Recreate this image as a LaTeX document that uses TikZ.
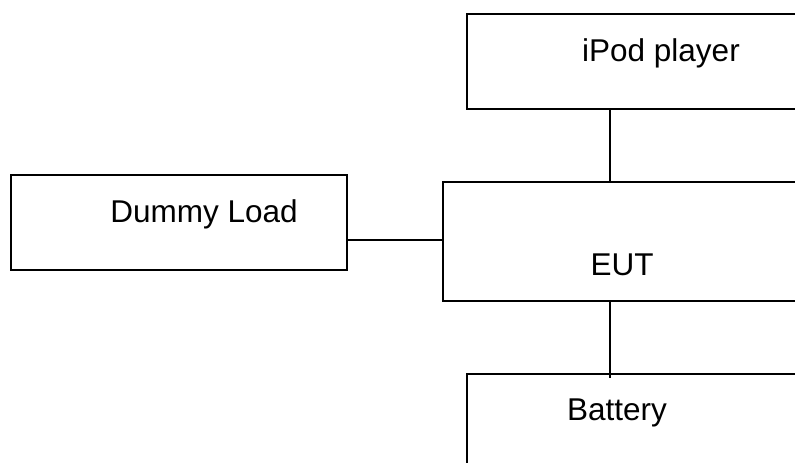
\documentclass[tikz,border=0pt]{standalone}
\usepackage{fontspec}
\setmainfont{Liberation Sans}
\begin{document}
\begin{tikzpicture}[x=1pt,y=-1pt,
  blk/.style={draw=black,line width=1.8pt,rectangle,inner sep=0pt,anchor=north west},
  lbl/.style={font=\fontsize{31.5}{36}\selectfont,anchor=base,inner sep=0pt},
  wire/.style={draw=black,line width=2pt}]
\useasboundingbox (0,0) rectangle (795,463);
\clip (0,0) rectangle (795,463);
\node[blk,minimum width=340pt,minimum height=95pt] (ipod) at (466,13) {};
\node[blk,minimum width=364pt,minimum height=119pt] (eut) at (442,181) {};
\node[blk,minimum width=336pt,minimum height=95pt] (dummy) at (10,174) {};
\node[blk,minimum width=340pt,minimum height=120pt] (bat) at (466,373) {};
\node[lbl] (tipod) at (661,61) {iPod player};
\node[lbl] (tdummy) at (204,222) {Dummy Load};
\node[lbl] (teut) at (622,275) {EUT};
\node[lbl] (tbat) at (617,420) {Battery};
\coordinate (bus) at (610,0);
\coordinate (batend) at (610,378);
\draw[wire] (ipod.south -| bus) -- (eut.north -| bus);
\draw[wire] (eut.south -| bus) -- (batend);
\draw[wire] (dummy.east) ++(0,17.5) coordinate (dl) (dl) -- (dl -| eut.west);
\end{tikzpicture}
\end{document}
